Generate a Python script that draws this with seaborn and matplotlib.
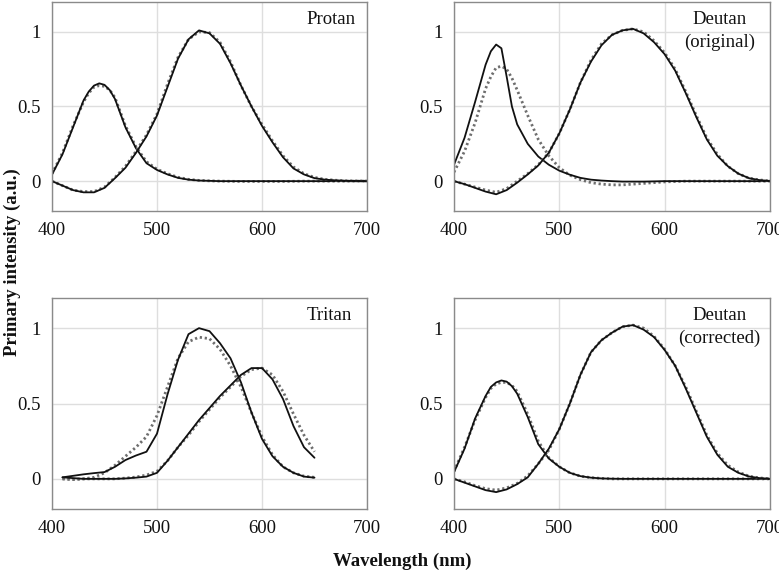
import numpy as np
import pandas as pd
import matplotlib
matplotlib.use("Agg")
import matplotlib.pyplot as plt
import seaborn as sns

# ---------------- data ----------------
WL = [400, 410, 420, 430, 440, 450, 460, 470, 480, 490, 500, 510, 520, 530, 540,
      550, 560, 570, 580, 590, 600, 610, 620, 630, 640, 650, 660, 670, 680, 690, 700]
XS = [400, 410, 420, 430, 435, 440, 445, 450, 455, 460, 470, 480, 490, 500, 510,
      520, 530, 540, 550, 560, 580, 600, 620, 640, 660, 680, 700]
WT = [410, 420, 430, 440, 450, 460, 470, 480, 490, 500, 510, 520, 530, 540, 550,
      560, 570, 580, 590, 600, 610, 620, 630, 640, 650]

# Protan
protan_s_solid = [0.044, 0.18, 0.36, 0.54, 0.60, 0.64, 0.655, 0.645, 0.61, 0.55, 0.36, 0.22, 0.12, 0.075,
                  0.045, 0.022, 0.01, 0.004, 0.002, 0.0, 0.0, 0.0, 0.0, 0.0, 0.0, 0.0, 0.0]
protan_s_dot = [0.05, 0.19, 0.37, 0.53, 0.59, 0.63, 0.64, 0.635, 0.61, 0.56, 0.37, 0.23, 0.13, 0.08,
                0.05, 0.026, 0.012, 0.005, 0.002, 0.0, -0.002, -0.002, -0.002, 0.0, 0.0, 0.0, 0.0]
protan_m_solid = [0.0, -0.03, -0.06, -0.075, -0.075, -0.045, 0.02, 0.09, 0.19, 0.30, 0.44, 0.63, 0.82,
                  0.95, 1.01, 0.99, 0.92, 0.79, 0.64, 0.50, 0.37, 0.26, 0.16, 0.085, 0.045, 0.02,
                  0.01, 0.005, 0.002, 0.001, 0.0]
protan_m_dot = [0.0, -0.03, -0.06, -0.07, -0.07, -0.04, 0.025, 0.10, 0.20, 0.31, 0.45, 0.65, 0.83,
                0.95, 1.0, 0.995, 0.93, 0.80, 0.64, 0.50, 0.38, 0.27, 0.17, 0.095, 0.05, 0.025,
                0.012, 0.006, 0.003, 0.002, 0.001]

# Deutan (original)
deut_o_s_solid = [0.11, 0.29, 0.53, 0.78, 0.87, 0.915, 0.89, 0.70, 0.50, 0.38, 0.25, 0.165, 0.11, 0.07,
                  0.043, 0.022, 0.01, 0.004, 0.0, -0.003, -0.003, 0.0, 0.0, 0.0, 0.0, 0.0, 0.0]
deut_o_s_dot = [0.06, 0.20, 0.39, 0.62, 0.70, 0.76, 0.77, 0.75, 0.69, 0.61, 0.44, 0.28, 0.17, 0.09,
                0.04, 0.01, -0.01, -0.02, -0.025, -0.025, -0.015, -0.005, 0.0, 0.0, 0.0, 0.0, 0.0]
deut_o_m_solid = [0.0, -0.02, -0.045, -0.07, -0.088, -0.06, -0.01, 0.045, 0.105, 0.19, 0.32, 0.48, 0.66,
                  0.80, 0.91, 0.98, 1.01, 1.02, 0.99, 0.93, 0.85, 0.74, 0.59, 0.43, 0.28, 0.17,
                  0.10, 0.05, 0.02, 0.007, 0.0]
deut_o_m_dot = [0.0, -0.02, -0.04, -0.06, -0.075, -0.05, 0.0, 0.05, 0.11, 0.19, 0.32, 0.48, 0.66,
                0.81, 0.92, 0.98, 1.01, 1.02, 1.0, 0.94, 0.86, 0.75, 0.60, 0.44, 0.29, 0.18,
                0.10, 0.05, 0.02, 0.008, 0.002]

# Tritan
trit_m_solid = [0.01, 0.02, 0.03, 0.038, 0.045, 0.08, 0.125, 0.155, 0.18, 0.30, 0.56, 0.79, 0.96, 1.0,
                0.98, 0.90, 0.80, 0.64, 0.44, 0.265, 0.15, 0.08, 0.04, 0.015, 0.008]
trit_m_dot = [0.0, -0.005, 0.0, 0.01, 0.04, 0.09, 0.15, 0.21, 0.28, 0.42, 0.61, 0.80, 0.91, 0.94,
              0.93, 0.86, 0.75, 0.61, 0.44, 0.28, 0.16, 0.08, 0.04, 0.018, 0.01]
trit_l_solid = [0.01, 0.005, 0.0, 0.0, 0.0, 0.0, 0.003, 0.008, 0.015, 0.04, 0.12, 0.21, 0.30, 0.39,
                0.47, 0.55, 0.62, 0.69, 0.735, 0.735, 0.66, 0.53, 0.35, 0.21, 0.14]
trit_l_dot = [0.0, -0.003, 0.0, 0.0, 0.0, 0.0, 0.005, 0.012, 0.025, 0.05, 0.12, 0.21, 0.29, 0.38,
              0.46, 0.54, 0.61, 0.68, 0.725, 0.735, 0.69, 0.58, 0.43, 0.29, 0.18]

# Deutan (corrected)
deut_c_s_solid = [0.044, 0.20, 0.40, 0.55, 0.61, 0.64, 0.653, 0.645, 0.615, 0.565, 0.41, 0.23, 0.135, 0.08,
                  0.04, 0.018, 0.008, 0.003, 0.001, 0.0, 0.0, 0.0, 0.0, 0.0, 0.0, 0.0, 0.0]
deut_c_s_dot = [0.05, 0.21, 0.39, 0.54, 0.60, 0.63, 0.64, 0.64, 0.62, 0.58, 0.43, 0.25, 0.14, 0.08,
                0.04, 0.018, 0.008, 0.003, 0.0, 0.0, 0.0, 0.0, 0.0, 0.0, 0.0, 0.0, 0.0]
deut_c_m_solid = [0.0, -0.025, -0.05, -0.075, -0.088, -0.07, -0.035, 0.01, 0.10, 0.20, 0.33, 0.50, 0.69,
                  0.84, 0.92, 0.97, 1.01, 1.02, 0.99, 0.94, 0.855, 0.75, 0.60, 0.44, 0.28, 0.16,
                  0.08, 0.04, 0.016, 0.005, 0.0]
deut_c_m_dot = [0.0, -0.02, -0.045, -0.065, -0.075, -0.06, -0.03, 0.02, 0.10, 0.19, 0.33, 0.50, 0.69,
                0.84, 0.92, 0.97, 1.01, 1.02, 1.0, 0.945, 0.86, 0.75, 0.61, 0.45, 0.29, 0.17,
                0.09, 0.045, 0.018, 0.006, 0.001]

PANEL_TITLES = ["Protan", "Deutan\n(original)", "Tritan", "Deutan\n(corrected)"]
X_TICKS = [400, 500, 600, 700]
Y_TICKS = [0, 0.5, 1]
Y_TICK_LABELS = ["0", "0.5", "1"]

panels = [
    [(XS, protan_s_solid, protan_s_dot), (WL, protan_m_solid, protan_m_dot)],
    [(XS, deut_o_s_solid, deut_o_s_dot), (WL, deut_o_m_solid, deut_o_m_dot)],
    [(WT, trit_m_solid, trit_m_dot), (WT, trit_l_solid, trit_l_dot)],
    [(XS, deut_c_s_solid, deut_c_s_dot), (WL, deut_c_m_solid, deut_c_m_dot)],
]

# ---------------- style ----------------
sns.set_style("whitegrid", {"grid.color": "#dedede", "axes.edgecolor": "#8a8a8a"})
plt.rcParams["font.family"] = ["Liberation Serif", "DejaVu Serif"]
FS = 13.5

fig = plt.figure(figsize=(7.79, 5.73), dpi=100)
W, H = 779.0, 573.0
boxes = [(52, 2, 367, 211), (454, 2, 770, 211), (52, 298, 367, 509), (454, 298, 770, 509)]
title_pos = [(0.885, 0.955), (0.84, 0.955), (0.88, 0.955), (0.84, 0.955)]

for i, (l, t, r, b) in enumerate(boxes):
    ax = fig.add_axes([l / W, 1 - b / H, (r - l) / W, (b - t) / H])
    for (x, ys, yd) in panels[i]:
        sns.lineplot(x=x, y=yd, ax=ax, color="#6e6e6e", linewidth=2.0,
                     linestyle=(0, (0.8, 1.0)), estimator=None, sort=False)
        sns.lineplot(x=x, y=ys, ax=ax, color="#111111", linewidth=1.3,
                     estimator=None, sort=False)
    ax.set_xlim(400, 700)
    ax.set_ylim(-0.2, 1.2)
    ax.set_xticks(X_TICKS)
    ax.set_xticklabels([str(v) for v in X_TICKS])
    ax.set_yticks(Y_TICKS)
    ax.set_yticklabels(Y_TICK_LABELS)
    ax.tick_params(length=0, labelsize=FS, colors="#111111")
    ax.tick_params(axis="x", pad=8)
    ax.tick_params(axis="y", pad=8)
    ax.set_xlabel("")
    ax.set_ylabel("")
    for s in ax.spines.values():
        s.set_linewidth(1.0)
        s.set_color("#8a8a8a")
    ax.grid(True, color="#dedede", linewidth=1.0)
    tx, ty = title_pos[i]
    ax.text(tx, ty, PANEL_TITLES[i], transform=ax.transAxes, ha="center", va="top",
            fontsize=FS, color="#111111", linespacing=1.4)

fig.text(0.517, 0.021, "Wavelength (nm)", ha="center", va="center",
         fontsize=FS, fontweight="bold", color="#111111")
fig.text(0.016, 0.543, "Primary intensity (a.u.)", ha="center", va="center",
         rotation=90, fontsize=FS, fontweight="bold", color="#111111")

fig.savefig("out.png", dpi=100)
